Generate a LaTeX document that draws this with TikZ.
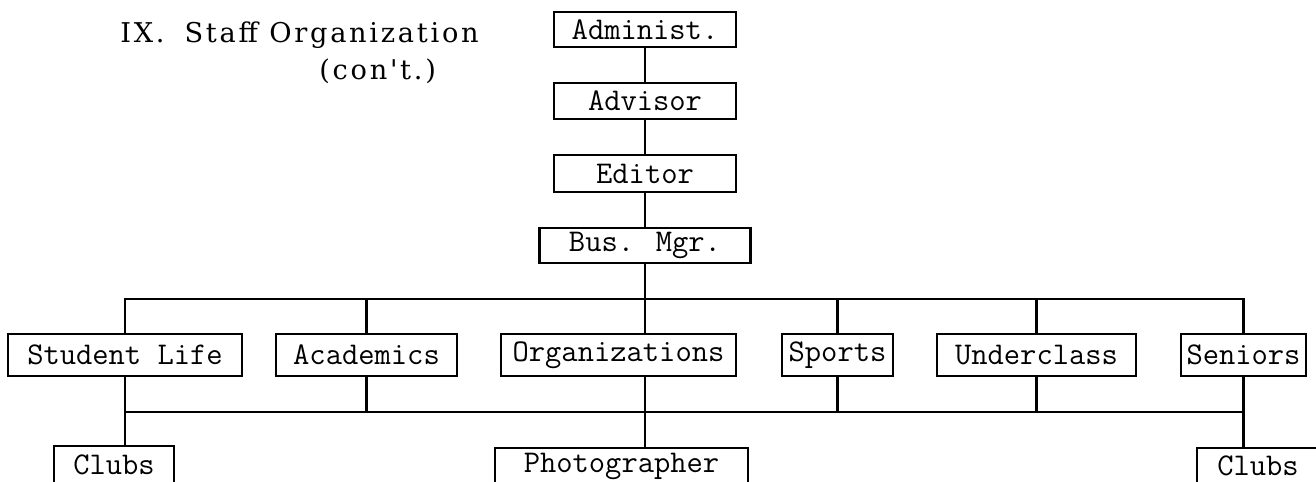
\documentclass[tikz,border=0pt]{standalone}
\usepackage{fontspec}
\usepackage{tikz}
\usetikzlibrary{positioning, calc}

\newfontfamily\headfont{DejaVu Serif}[LetterSpace=10]

\tikzset{
  office/.style={draw, line width=1.2pt, inner sep=0pt, minimum height=0.72cm,
    font=\ttfamily\fontsize{18}{21}\selectfont},
  lowoffice/.style={office, draw=none, anchor=north},
  link/.style={line width=1.2pt},
  heading/.style={anchor=base west, inner sep=0pt,
    font=\headfont\fontsize{15.5}{18}\selectfont}
}

\begin{document}
\begin{tikzpicture}[x=0.02cm, y=-0.02cm]
\useasboundingbox (0,0) rectangle (1316,482);
\clip (0,0) rectangle (1316,482);

% Heading
\node[heading] (title) at (120,43) {IX.\hspace{0.4cm}Staff Organization};
\node[heading] (cont) at (319,80) {(con't.)};

% Chain at the top
\node[office, minimum width=3.64cm, minimum height=0.70cm] (adm) at (645,29.5) {Administ.};
\node[office, minimum width=3.64cm] (adv) at (645,101) {Advisor};
\node[office, minimum width=3.64cm, minimum height=0.74cm] (edi) at (645,173.5) {Editor};
\node[office, minimum width=4.22cm, minimum height=0.70cm] (bus) at (645,245.5) {Bus. Mgr.};

% Sections
\foreach \n/\x/\w/\t in {sl/125/4.68/Student Life, aca/366.5/3.62/Academics,
    org/618.5/4.70/Organizations, spo/837.5/2.22/Sports,
    und/1036.5/3.98/Underclass, sen/1243.5/2.50/Seniors}
  \node[office, minimum width=\w cm, minimum height=0.84cm] (\n) at (\x,355) {\t};

% Bottom row, running off the page
\node[lowoffice, minimum width=2.36cm, minimum height=0.72cm] (clubsL) at (114,446) {Clubs};
\node[lowoffice, minimum width=5.02cm, minimum height=0.68cm] (pho) at (621.5,448) {Photographer};
\node[lowoffice, minimum width=2.40cm, minimum height=0.68cm] (clubsR) at (1258,448) {Clubs};
\foreach \n in {clubsL,pho,clubsR}
  \draw[link] (\n.south west) |- (\n.north east) -- (\n.south east);

\coordinate (tbus) at (0,299);
\coordinate (lbus) at (0,412);

\draw[link] (adm) -- (adv);
\draw[link] (adv) -- (edi);
\draw[link] (edi) -- (bus);
\draw[link] (bus.south) -- (bus.south |- org.north);
\draw[link] (bus.south |- org.south) -- (bus.south |- pho.north);

% Upper and lower bars
\draw[link] (sl.north) -- (sl.north |- tbus) -- (sen.north |- tbus) -- (sen.north);
\draw[link] (sl.south |- lbus) -- (sen.south |- lbus);
\foreach \n in {aca,spo,und} {
  \draw[link] (\n.north |- tbus) -- (\n.north);
  \draw[link] (\n.south) -- (\n.south |- lbus);
}
\draw[link] (sl.south) -- (sl.south |- clubsL.north);
\draw[link] (sen.south) -- (sen.south |- clubsR.north);
\end{tikzpicture}
\end{document}
